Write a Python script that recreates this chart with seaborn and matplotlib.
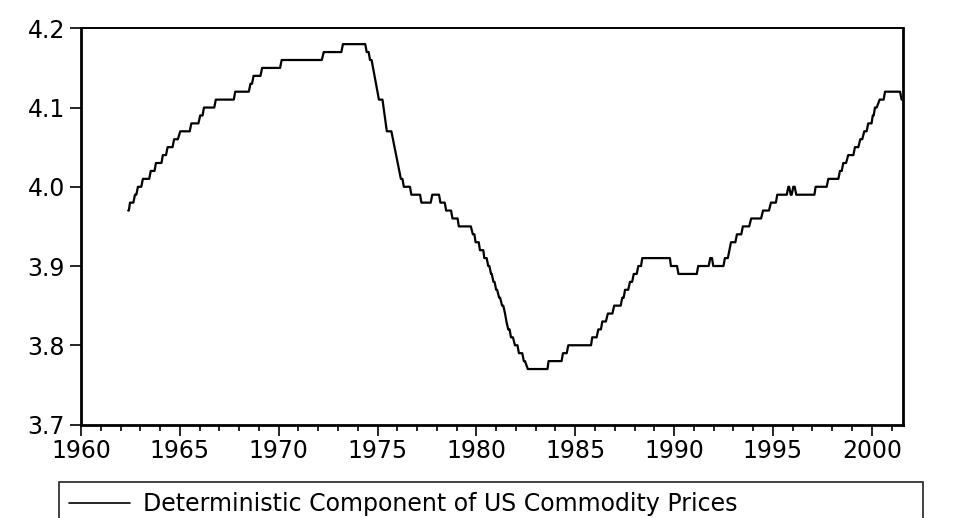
import matplotlib
matplotlib.use("Agg")
import matplotlib.pyplot as plt
import seaborn as sns
import pandas as pd
from matplotlib.ticker import MultipleLocator, FormatStrFormatter

# Breakpoints (year, value)
years = [
    1962.39, 1962.42, 1962.48, 1962.65, 1962.73, 1962.80, 1962.88, 1963.05,
    1963.13, 1963.45, 1963.53, 1963.72, 1963.79, 1964.07, 1964.14, 1964.30,
    1964.38, 1964.63, 1964.71, 1964.90, 1965.02, 1965.50, 1965.58, 1965.94,
    1966.03, 1966.15, 1966.22, 1966.74, 1966.82, 1967.73, 1967.80, 1968.49,
    1968.57, 1968.65, 1968.73, 1969.08, 1969.16, 1970.07, 1970.15, 1972.18,
    1972.28, 1973.17, 1973.25, 1974.38, 1974.45, 1974.55, 1974.62, 1974.70,
    1975.07, 1975.25, 1975.47, 1975.70, 1976.18, 1976.26, 1976.33, 1976.64,
    1976.71, 1977.15, 1977.22, 1977.69, 1977.77, 1978.11, 1978.18, 1978.40,
    1978.47, 1978.72, 1978.79, 1979.05, 1979.11, 1979.72, 1979.82, 1979.90,
    1979.96, 1980.12, 1980.18, 1980.35, 1980.40, 1980.52, 1980.60, 1980.66,
    1980.74, 1980.78, 1980.86, 1980.92, 1981.00, 1981.05, 1981.15, 1981.20,
    1981.30, 1981.36, 1981.45, 1981.52, 1981.61, 1981.68, 1981.75, 1981.85,
    1981.95, 1982.08, 1982.15, 1982.32, 1982.40, 1982.46, 1982.60, 1983.60,
    1983.65, 1984.31, 1984.38, 1984.57, 1984.65, 1985.80, 1985.86, 1986.08,
    1986.17, 1986.30, 1986.37, 1986.55, 1986.65, 1986.88, 1986.97, 1987.30,
    1987.38, 1987.45, 1987.52, 1987.68, 1987.77, 1987.88, 1987.96, 1988.11,
    1988.19, 1988.33, 1988.39, 1989.79, 1989.84, 1990.15, 1990.22, 1991.15,
    1991.22, 1991.75, 1991.83, 1991.92, 1991.98, 1992.50, 1992.57, 1992.72,
    1992.88, 1993.10, 1993.18, 1993.40, 1993.48, 1993.80, 1993.90, 1994.40,
    1994.50, 1994.80, 1994.90, 1995.15, 1995.22, 1995.70, 1995.78, 1995.82,
    1995.90, 1995.95, 1996.03, 1996.10, 1996.18, 1997.10, 1997.16, 1997.72,
    1997.80, 1998.31, 1998.39, 1998.48, 1998.56, 1998.70, 1998.81, 1999.07,
    1999.15, 1999.32, 1999.42, 1999.52, 1999.62, 1999.74, 1999.82, 1999.99,
    2000.05, 2000.10, 2000.16, 2000.25, 2000.40, 2000.60, 2000.67, 2001.43,
    2001.51,
]
values = [
    3.97, 3.97, 3.98, 3.98, 3.99, 3.99, 4.00, 4.00,
    4.01, 4.01, 4.02, 4.02, 4.03, 4.03, 4.04, 4.04,
    4.05, 4.05, 4.06, 4.06, 4.07, 4.07, 4.08, 4.08,
    4.09, 4.09, 4.10, 4.10, 4.11, 4.11, 4.12, 4.12,
    4.13, 4.13, 4.14, 4.14, 4.15, 4.15, 4.16, 4.16,
    4.17, 4.17, 4.18, 4.18, 4.17, 4.17, 4.16, 4.16,
    4.11, 4.11, 4.07, 4.07, 4.01, 4.01, 4.00, 4.00,
    3.99, 3.99, 3.98, 3.98, 3.99, 3.99, 3.98, 3.98,
    3.97, 3.97, 3.96, 3.96, 3.95, 3.95, 3.94, 3.94,
    3.93, 3.93, 3.92, 3.92, 3.91, 3.91, 3.90, 3.90,
    3.89, 3.89, 3.88, 3.88, 3.87, 3.87, 3.86, 3.86,
    3.85, 3.85, 3.84, 3.83, 3.82, 3.82, 3.81, 3.81,
    3.80, 3.80, 3.79, 3.79, 3.78, 3.78, 3.77, 3.77,
    3.78, 3.78, 3.79, 3.79, 3.80, 3.80, 3.81, 3.81,
    3.82, 3.82, 3.83, 3.83, 3.84, 3.84, 3.85, 3.85,
    3.86, 3.86, 3.87, 3.87, 3.88, 3.88, 3.89, 3.89,
    3.90, 3.90, 3.91, 3.91, 3.90, 3.90, 3.89, 3.89,
    3.90, 3.90, 3.91, 3.91, 3.90, 3.90, 3.91, 3.91,
    3.93, 3.93, 3.94, 3.94, 3.95, 3.95, 3.96, 3.96,
    3.97, 3.97, 3.98, 3.98, 3.99, 3.99, 4.00, 4.00,
    3.99, 3.99, 4.00, 4.00, 3.99, 3.99, 4.00, 4.00,
    4.01, 4.01, 4.02, 4.02, 4.03, 4.03, 4.04, 4.04,
    4.05, 4.05, 4.06, 4.06, 4.07, 4.07, 4.08, 4.08,
    4.09, 4.09, 4.10, 4.10, 4.11, 4.11, 4.12, 4.12,
    4.11,
]
series_name = "Deterministic Component of US Commodity Prices"
x_major = [1960, 1965, 1970, 1975, 1980, 1985, 1990, 1995, 2000]
y_major = [3.7, 3.8, 3.9, 4.0, 4.1, 4.2]

sns.set_style("ticks")
plt.rcParams["font.family"] = ["DejaVu Sans"]
plt.rcParams["text.color"] = "black"

df = pd.DataFrame({"year": years, "value": values, "series": series_name})

fig = plt.figure(figsize=(9.58, 5.18), dpi=100)
W, H = 958, 518
ax = fig.add_axes([81 / W, 1 - 424.5 / H, (903 - 81) / W, (424.5 - 28.3) / H])

sns.lineplot(data=df, x="year", y="value", hue="series", palette=["black"],
             estimator=None, sort=False, linewidth=1.6, ax=ax, legend=True)

ax.set_xlim(1960, 2001.58)
ax.set_ylim(3.7, 4.2)
ax.set_xticks(x_major)
ax.set_xticklabels([str(v) for v in x_major])
ax.xaxis.set_minor_locator(MultipleLocator(1))
ax.set_yticks(y_major)
ax.yaxis.set_major_formatter(FormatStrFormatter("%.1f"))
ax.set_xlabel("")
ax.set_ylabel("")

ax.tick_params(axis="both", which="major", direction="out", length=8,
               width=1.2, color="black", labelsize=17, labelcolor="black")
ax.tick_params(axis="x", which="major", pad=2.5)
ax.tick_params(axis="y", which="major", pad=3.5)
ax.tick_params(axis="x", which="minor", direction="out", length=4.5,
               width=1.2, color="black")

for side in ["left", "bottom", "right"]:
    ax.spines[side].set_linewidth(2.0)
    ax.spines[side].set_color("black")
ax.spines["top"].set_linewidth(1.4)
ax.spines["top"].set_color("black")

handles, labels = ax.get_legend_handles_labels()
ax.get_legend().remove()
leg = fig.legend(handles, labels, loc="upper left",
                 bbox_to_anchor=(59 / W, 0, (923 - 59) / W, 1 - 482 / H),
                 mode="expand", fontsize=17, frameon=True, fancybox=False,
                 framealpha=1.0, borderpad=0.42, handlelength=2.6,
                 handletextpad=0.55, borderaxespad=0, labelcolor="black")
leg.get_frame().set_edgecolor("#222222")
leg.get_frame().set_linewidth(1.2)
for line in leg.get_lines():
    line.set_linewidth(1.2)

fig.savefig("out.png", dpi=100, facecolor="white")
